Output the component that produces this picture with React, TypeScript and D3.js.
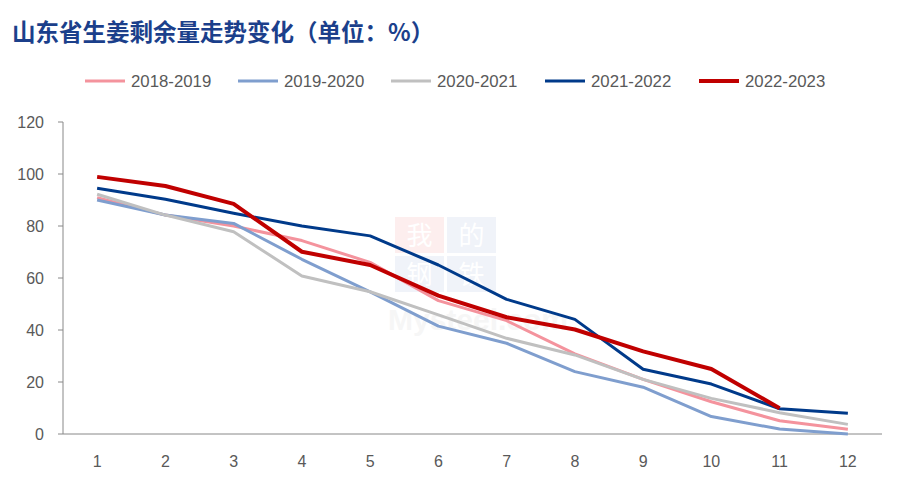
import React from "react";
import * as d3 from "d3";

const months = [1, 2, 3, 4, 5, 6, 7, 8, 9, 10, 11, 12];
const yTicks = [0, 20, 40, 60, 80, 100, 120];
const seriesNames = ["2018-2019", "2019-2020", "2020-2021", "2021-2022", "2022-2023"];
const s2018 = [90.9, 84.2, 80, 74.4, 66, 51.3, 43.6, 30.8, 21, 12.4, 5.1, 1.8];
const s2019 = [90, 84.2, 81, 67.2, 54.7, 41.5, 34.9, 24, 18, 6.7, 1.9, 0];
const s2020 = [92.2, 84.2, 77.8, 60.8, 54.7, 45.8, 36.8, 30.4, 21, 13.7, 8.2, 3.7];
const s2021 = [94.5, 90.3, 84.9, 80, 76.2, 65, 51.8, 44.1, 24.9, 19.2, 9.7, 8];
const s2022 = [98.9, 95.4, 88.5, 70.1, 65, 53.2, 44.9, 40.2, 31.8, 25, 9.9];
const colors = ["#F4939D", "#7F9ECE", "#C0C0C0", "#003A8A", "#C00000"];
const widths = [3, 3, 3, 3, 4];
const watermarkChars = ["我", "的", "钢", "铁"];

const W = 904, H = 483;
const left = 63, right = 882, top = 122, bottom = 434;

export default function App() {
  const x = d3.scaleBand<number>().domain(months).range([left, right]);
  const y = d3.scaleLinear().domain([0, 120]).range([bottom, top]);
  const all = [s2018, s2019, s2020, s2021, s2022];
  const line = d3
    .line<number>()
    .x((_, i) => (x(months[i]) as number) + x.bandwidth() / 2)
    .y((d) => y(d));
  const legendX = [85, 238, 391, 545, 699];
  const font = "'Liberation Sans', Arial, sans-serif";
  const cjk = "'Noto Sans CJK SC', sans-serif";
  const wmFill = ["#FDEEEE", "#F0F3F9", "#F0F3F9", "#F0F3F9"];
  return (
    <svg width={W} height={H} style={{ position: "absolute", left: 0, top: 0, background: "#fff" }}>
      <rect width={W} height={H} fill="#fff" />
      <text x={12} y={41} fontFamily={cjk} fontWeight={700} fontSize={23.5} fill="#1B3F8B">
        山东省生姜剩余量走势变化（单位：%）
      </text>
      {/* watermark */}
      <g>
        {watermarkChars.map((c, i) => {
          const bx = 395 + (i % 2) * 52;
          const by = 217 + Math.floor(i / 2) * 39;
          return (
            <g key={c}>
              <rect x={bx} y={by} width={49} height={36} fill={wmFill[i]} />
              <text x={bx + 24.5} y={by + 28} textAnchor="middle" fontFamily={cjk} fontSize={26} fill="#fff">
                {c}
              </text>
            </g>
          );
        })}
        <text x={478} y={330} textAnchor="middle" fontFamily={font} fontWeight={700} fontSize={30} fill="#F6F6F6">
          Mysteel.com
        </text>
      </g>
      {/* legend */}
      {seriesNames.map((n, i) => (
        <g key={n}>
          <line x1={legendX[i]} x2={legendX[i] + 40} y1={81} y2={81} stroke={colors[i]} strokeWidth={widths[i]} />
          <text x={legendX[i] + 46} y={87} fontFamily={font} fontSize={16.8} fill="#595959">
            {n}
          </text>
        </g>
      ))}
      {/* y axis */}
      <line x1={left} x2={left} y1={top} y2={bottom} stroke="#888" strokeWidth={1} />
      {yTicks.map((t) => (
        <g key={t}>
          <line x1={left - 5} x2={left} y1={y(t)} y2={y(t)} stroke="#888" />
          <text x={left - 19} y={y(t) + 6} textAnchor="end" fontFamily={font} fontSize={16} fill="#595959">
            {t}
          </text>
        </g>
      ))}
      {/* x axis */}
      <line x1={left} x2={right} y1={bottom} y2={bottom} stroke="#888" />
      {months.map((m) => (
        <text key={m} x={(x(m) as number) + x.bandwidth() / 2} y={467} textAnchor="middle" fontFamily={font} fontSize={16} fill="#595959">
          {m}
        </text>
      ))}
      {all.map((s, i) => (
        <path key={i} d={line(s) || ""} fill="none" stroke={colors[i]} strokeWidth={widths[i]} strokeLinejoin="round" />
      ))}
    </svg>
  );
}
